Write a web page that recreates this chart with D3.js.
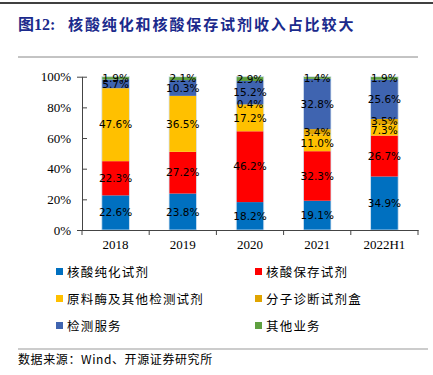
<!DOCTYPE html>
<html><head><meta charset="utf-8">
<script src="https://cdn.jsdelivr.net/npm/d3@7"></script>
<style>body{margin:0;background:#fff}svg{display:block}</style>
</head><body>
<svg id="c" width="433" height="375"></svg>
<script>
const categories = ["2018","2019","2020","2021","2022H1"];
const seriesNames = ["核酸纯化试剂","核酸保存试剂","原料酶及其他检测试剂","分子诊断试剂盒","检测服务","其他业务"];
const purification = [22.6, 23.8, 18.2, 19.1, 34.9];
const preservation = [22.3, 27.2, 46.2, 32.3, 26.7];
const enzymes      = [47.6, 36.5, 17.2, 11.0, 7.3];
const diagnostics  = [0, 0, 0.4, 3.4, 3.5];
const testing      = [5.7, 10.3, 15.2, 32.8, 25.6];
const others       = [1.9, 2.1, 2.9, 1.4, 1.9];
const yTicks = [0, 20, 40, 60, 80, 100];
const colors = ["#0070C0","#FF0000","#FFC000","#E0A400","#3F64B0","#5FA040"];

const seriesVals = [purification, preservation, enzymes, diagnostics, testing, others];
const rows = categories.map((c,i)=>{const r={cat:c}; seriesNames.forEach((s,k)=>r[s]=seriesVals[k][i]); return r;});
const stacked = d3.stack().keys(seriesNames)(rows);

const svg = d3.select("#c");
// top rule and header
svg.append("line").attr("x1",0).attr("x2",433).attr("y1",3).attr("y2",3).attr("stroke","#000").attr("stroke-width",1.5);
svg.append("text").attr("x",18).attr("y",30)
  .attr("font-family","'Liberation Serif','Noto Sans CJK SC',serif").attr("font-weight","bold")
  .attr("font-size",16).attr("fill","#1B2A8C")
  .text("图12:");
svg.append("text").attr("x",68).attr("y",30)
  .attr("font-family","'Noto Sans CJK SC',sans-serif").attr("font-weight","bold")
  .attr("font-size",15).attr("letter-spacing",1.9).attr("fill","#1B2A8C")
  .text("核酸纯化和核酸保存试剂收入占比较大");
svg.append("line").attr("x1",18).attr("x2",418).attr("y1",57).attr("y2",57).attr("stroke","#888").attr("stroke-width",1);

const x = d3.scaleBand().domain(categories).range([82,418]).paddingInner(0.59).paddingOuter(0.295);
const y = d3.scaleLinear().domain([0,100]).range([230,76.7]);

const g = svg.append("g");
stacked.forEach((s,k)=>{
  g.selectAll(null).data(s.filter(d=>d[1]-d[0]>0)).enter().append("rect")
    .attr("x",d=>x(d.data.cat)).attr("width",x.bandwidth())
    .attr("y",d=>y(d[1])).attr("height",d=>y(d[0])-y(d[1]))
    .attr("fill",colors[k]);
});
// edge highlight
g.selectAll(null).data(categories).enter().append("rect")
  .attr("x",d=>x(d)).attr("width",x.bandwidth()).attr("y",y(100)).attr("height",y(0)-y(100))
  .attr("fill","none").attr("stroke","#d6e4f2").attr("stroke-width",0.8);

stacked.forEach((s,k)=>{
  g.selectAll(null).data(s.filter(d=>d[1]-d[0]>0)).enter().append("text")
    .attr("x",d=>x(d.data.cat)+x.bandwidth()/2).attr("y",d=>y((d[0]+d[1])/2))
    .attr("dy","0.36em").attr("text-anchor","middle")
    .attr("font-family","'DejaVu Sans',sans-serif").attr("font-size",10.5).attr("fill","#000")
    .text(d=>(d[1]-d[0]).toFixed(1)+"%");
});

// axes
const yAxis = d3.axisLeft(y).tickValues(yTicks).tickFormat(d=>d+"%").tickSize(5).tickPadding(6);
const ya = svg.append("g").attr("transform","translate(82,0)").call(yAxis);
const xAxis = d3.axisBottom(x).tickSize(0).tickPadding(10);
const xa = svg.append("g").attr("transform","translate(0,230)").call(xAxis);
[ya,xa].forEach(a=>{
  a.selectAll("text").attr("font-family","'Liberation Serif',serif").attr("font-size",13).attr("fill","#000");
  a.select(".domain").attr("stroke","#444");
  a.selectAll(".tick line").attr("stroke","#444");
});
ya.selectAll(".tick line").attr("x2",5).attr("x1",0);
// category separators
const seps = [0,1,2,3,4,5].map(i=>82+i*x.step());
svg.selectAll(null).data(seps).enter().append("line")
  .attr("x1",d=>d).attr("x2",d=>d).attr("y1",230).attr("y2",235).attr("stroke","#444");

// legend
const leg = svg.append("g");
seriesNames.forEach((n,k)=>{
  const col = k%2, row = Math.floor(k/2);
  const lx = col? 255:56, ly = 272+row*27;
  leg.append("rect").attr("x",lx).attr("y",ly-4).attr("width",7).attr("height",7).attr("fill",colors[k]);
  leg.append("text").attr("x",lx+11).attr("y",ly).attr("dy","0.36em")
    .attr("font-family","'Noto Sans CJK SC',sans-serif").attr("font-size",12.5).attr("letter-spacing",1.2)
    .attr("fill","#000").text(n);
});

svg.append("line").attr("x1",18).attr("x2",428).attr("y1",349).attr("y2",349).attr("stroke","#999").attr("stroke-width",1);
svg.append("text").attr("x",18).attr("y",364)
  .attr("font-family","'Noto Sans CJK SC',sans-serif").attr("font-size",12).attr("letter-spacing",0.6).attr("fill","#000")
  .text("数据来源：Wind、开源证券研究所");
</script>
</body></html>
